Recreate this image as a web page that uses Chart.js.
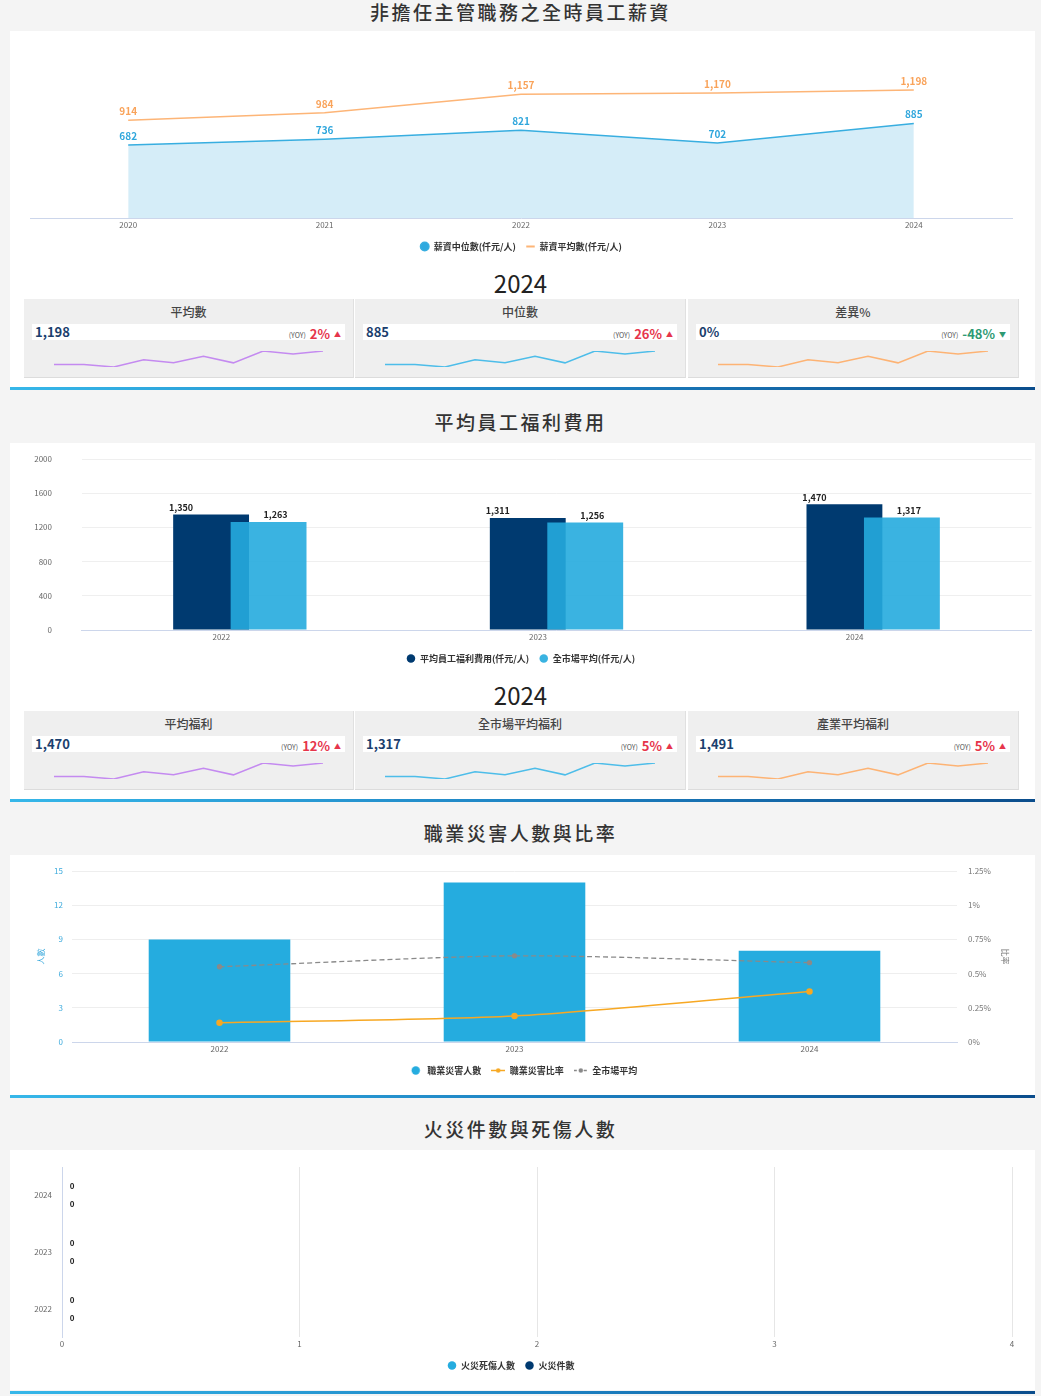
<!DOCTYPE html>
<html lang="zh-Hant">
<head>
<meta charset="utf-8">
<title>員工薪資與福利</title>
<script src="https://cdn.jsdelivr.net/npm/chart.js@4.4.1/dist/chart.umd.min.js"></script>
<style>
  html, body { margin: 0; padding: 0; }
  body { width: 1041px; height: 1396px; position: relative; overflow: hidden; background: #f4f4f4;
         font-family: 'Noto Sans CJK TC', 'Noto Sans', sans-serif; }
  .title { position: absolute; left: 0; width: 1041px; text-align: center; font-size: 19px; font-weight: 500;
           letter-spacing: 2.5px; color: #333; line-height: 24px; }
  .card { position: absolute; left: 10px; width: 1025px; background: #fff; }
  .rule { position: absolute; left: 10px; width: 1025px; height: 3px;
          background: linear-gradient(to right, #36b7e9, #1c7fc0 55%, #0b4d8c); }
  .year { position: absolute; left: 0; width: 1041px; text-align: center; font-size: 24px; color: #222; line-height: 28px; }
  .chart { position: absolute; left: 10px; }
  .kpi { position: absolute; height: 78px; background: #efefef; border-bottom: 1px solid #dcdcdc; border-right: 1px solid #e0e0e0; }
  .kpi h4 { position: absolute; margin: 0; top: 5px; left: 0; right: 0; text-align: center; font-size: 12px;
            font-weight: 500; color: #444; line-height: 16px; }
  .kpi .row { position: absolute; top: 25px; left: 8px; right: 8px; height: 16px; background: #fff; }
  .kpi .val { position: absolute; left: 3px; top: 0; font-size: 13px; font-weight: 700; color: #1b3f6e; line-height: 16px; }
  .kpi .yoy { position: absolute; right: 4px; top: 0; line-height: 16px; white-space: nowrap; }
  .kpi .yoy small { font-size: 7px; color: #555; margin-right: 4px; vertical-align: 1px; }
  .kpi .yoy b { font-size: 13px; font-weight: 700; }
  .kpi .yoy i { font-style: normal; font-size: 7px; margin-left: 4px; vertical-align: 2px; }
  .up { color: #e6354b; }
  .down { color: #2e9a73; }
  .kpi canvas { position: absolute; left: 10px; top: 44px; }
</style>
</head>
<body>

<div class="title" style="top:0px">非擔任主管職務之全時員工薪資</div>
<div class="card" style="top:31px;height:356px"></div>
<canvas id="salaryChart" class="chart" style="top:31px" width="1025" height="230"></canvas>
<div class="year" style="top:269px">2024</div>
<div class="rule" style="top:387px"></div>

<div class="title" style="top:410px">平均員工福利費用</div>
<div class="card" style="top:443px;height:356px"></div>
<canvas id="benefitChart" class="chart" style="top:443px" width="1025" height="230"></canvas>
<div class="year" style="top:681px">2024</div>
<div class="rule" style="top:799px"></div>

<div class="title" style="top:821px">職業災害人數與比率</div>
<div class="card" style="top:855px;height:240px"></div>
<canvas id="injuryChart" class="chart" style="top:855px" width="1025" height="230"></canvas>
<div class="rule" style="top:1095px"></div>

<div class="title" style="top:1117px">火災件數與死傷人數</div>
<div class="card" style="top:1150px;height:240px"></div>
<canvas id="fireChart" class="chart" style="top:1150px" width="1025" height="230"></canvas>
<div class="rule" style="top:1391px"></div>

<script>
// 薪資
const salaryYears = ['2020', '2021', '2022', '2023', '2024'];
const salaryMedian = [682, 736, 821, 702, 885];
const salaryMean = [914, 984, 1157, 1170, 1198];

// 福利
const benefitYears = ['2022', '2023', '2024'];
const benefitCompany = [1350, 1311, 1470];
const benefitMarket = [1263, 1256, 1317];

// 職業災害
const injuryYears = ['2022', '2023', '2024'];
const injuryCount = [9, 14, 8];
const injuryRate = [0.14, 0.19, 0.37];       // %
const injuryMarketRate = [0.55, 0.63, 0.58]; // %

// 火災
const fireYears = ['2024', '2023', '2022'];
const fireCasualties = [0, 0, 0];
const fireCases = [0, 0, 0];

// KPI 卡片
const salaryKpiTitles = ['平均數', '中位數', '差異%'];
const salaryKpiValues = ['1,198', '885', '0%'];
const salaryKpiYoy = [2, 26, -48];
const benefitKpiTitles = ['平均福利', '全市場平均福利', '產業平均福利'];
const benefitKpiValues = ['1,470', '1,317', '1,491'];
const benefitKpiYoy = [12, 5, 5];
const trendValues = [2.4, 2.4, 0, 7, 4, 10.4, 4, 15.4, 12.4, 15.4];

const kpiLefts = [24, 355, 688];
const kpiWidths = [330, 331, 331];
const trendColors = ['#c48af0', '#4dbde9', '#fdb374'];

Chart.defaults.font.family = "'Noto Sans CJK TC', 'Noto Sans', sans-serif";
Chart.defaults.font.size = 8;
Chart.defaults.color = '#666';
Chart.defaults.animation = false;
Chart.defaults.responsive = false;
Chart.defaults.plugins.tooltip.enabled = false;

// 數值標籤
const valueLabels = {
  id: 'valueLabels',
  afterDatasetsDraw(chart) {
    const ctx = chart.ctx;
    chart.data.datasets.forEach((ds, i) => {
      const s = ds.labelStyle;
      if (!s) return;
      chart.getDatasetMeta(i).data.forEach((el, j) => {
        ctx.save();
        ctx.font = s.font;
        ctx.fillStyle = s.color;
        ctx.textAlign = 'center';
        ctx.textBaseline = 'middle';
        ctx.fillText(ds.data[j].toLocaleString('en-US'), el.x + (s.dx || 0), el.y + (s.dy || 0));
        ctx.restore();
      });
    });
  }
};

function legendOpts(extraLabels) {
  return {
    position: 'bottom',
    labels: Object.assign({
      usePointStyle: true, boxHeight: 6, boxWidth: 9, padding: 10, color: '#333',
      font: { size: 9, weight: 'bold' }
    }, extraLabels || {})
  };
}

const xTicks = { padding: 3, color: '#666', font: { size: 8, lineHeight: 1 } };

// 圖一：薪資
new Chart(document.getElementById('salaryChart'), {
  type: 'line',
  data: {
    labels: salaryYears,
    datasets: [{
      label: '薪資中位數(仟元/人)',
      data: salaryMedian,
      borderColor: '#38aee0',
      backgroundColor: '#d5edf8',
      pointBackgroundColor: '#2fa9df',
      fill: 'origin',
      borderWidth: 1.5,
      pointRadius: 0,
      pointStyle: 'circle',
      labelStyle: { font: "600 10px 'Noto Sans CJK TC'", color: '#2fa6dc', dy: -9 }
    }, {
      label: '薪資平均數(仟元/人)',
      data: salaryMean,
      borderColor: '#fdb577',
      pointBorderColor: '#fdb577',
      pointBorderWidth: 2,
      fill: false,
      borderWidth: 1.5,
      pointRadius: 0,
      pointStyle: 'line',
      labelStyle: { font: "600 10px 'Noto Sans CJK TC'", color: '#f9a35a', dy: -9 }
    }]
  },
  options: {
    layout: { padding: { left: 20, right: 23, top: 16 } },
    scales: {
      x: { offset: true, grid: { display: false, drawTicks: false }, border: { color: '#ccd6eb' }, ticks: xTicks },
      y: { display: false, min: 0, max: 1600 }
    },
    plugins: { legend: legendOpts() }
  },
  plugins: [valueLabels]
});

// 圖二：福利
new Chart(document.getElementById('benefitChart'), {
  type: 'bar',
  data: {
    labels: benefitYears,
    datasets: [{
      label: '平均員工福利費用(仟元/人)',
      data: benefitCompany,
      backgroundColor: '#003a70',
      stack: 'company', order: 2,
      categoryPercentage: 0.363, barPercentage: 1.32,
      labelStyle: { font: "bold 9px 'Noto Sans CJK TC'", color: '#222', dx: -30, dy: -7 }
    }, {
      label: '全市場平均(仟元/人)',
      data: benefitMarket,
      backgroundColor: 'rgba(37,171,222,0.9)',
      stack: 'market', order: 1,
      categoryPercentage: 0.363, barPercentage: 1.32,
      labelStyle: { font: "bold 9px 'Noto Sans CJK TC'", color: '#222', dx: 7, dy: -7 }
    }, {
      // 只用來讓深色柱排在左邊、淺色柱疊在上層
      label: '',
      data: [],
      stack: 'company', order: 0,
      categoryPercentage: 0.363, barPercentage: 1.32
    }]
  },
  options: {
    layout: { padding: { left: 0, right: 3.5, top: 16 } },
    scales: {
      x: {
        grid: { display: false, drawTicks: false }, border: { color: '#ccd6eb' },
        ticks: Object.assign({ labelOffset: -18.5 }, xTicks)
      },
      y: {
        min: 0, max: 2000, stacked: false,
        ticks: { stepSize: 400, padding: 9.5, color: '#666', font: { size: 8 }, callback: v => String(v) },
        grid: { color: '#efefef', drawTicks: true, tickLength: 20, tickColor: 'rgba(0,0,0,0)' },
        border: { display: false },
        afterFit: scale => { scale.width = 71.5; }
      }
    },
    plugins: {
      legend: legendOpts({
        filter: item => item.text !== '',
        sort: (a, b) => a.datasetIndex - b.datasetIndex
      })
    }
  },
  plugins: [valueLabels]
});

// 圖三：職業災害
function legendIcon(kind, color) {
  const c = document.createElement('canvas');
  c.width = 14; c.height = 9;
  const g = c.getContext('2d');
  g.strokeStyle = color; g.fillStyle = color; g.lineWidth = 1.5;
  if (kind === 'dot') {
    g.beginPath(); g.arc(7, 4.5, 4.2, 0, Math.PI * 2); g.fill();
    return c;
  }
  if (kind === 'dash') g.setLineDash([3, 2]);
  g.beginPath(); g.moveTo(0, 4.5); g.lineTo(14, 4.5); g.stroke();
  g.setLineDash([]);
  g.beginPath(); g.arc(7, 4.5, 2.2, 0, Math.PI * 2); g.fill();
  return c;
}
const injuryIcons = [legendIcon('dot', '#25acdf'), legendIcon('line', '#f7a823'), legendIcon('dash', '#888')];

new Chart(document.getElementById('injuryChart'), {
  type: 'bar',
  data: {
    labels: injuryYears,
    datasets: [{
      type: 'bar',
      label: '職業災害人數',
      data: injuryCount,
      backgroundColor: '#25acdf',
      categoryPercentage: 0.8, barPercentage: 0.6,
      order: 3,
      yAxisID: 'y'
    }, {
      type: 'line',
      label: '職業災害比率',
      data: injuryRate,
      borderColor: '#f7a823',
      backgroundColor: '#f7a823',
      borderWidth: 1.5,
      pointRadius: 2.5,
      tension: 0.25,
      order: 1,
      yAxisID: 'y1'
    }, {
      type: 'line',
      label: '全市場平均',
      data: injuryMarketRate,
      borderColor: '#8a8a8a',
      backgroundColor: '#8a8a8a',
      borderWidth: 1.3,
      borderDash: [5, 3],
      pointRadius: 2,
      tension: 0.25,
      order: 2,
      yAxisID: 'y1'
    }]
  },
  options: {
    layout: { padding: { left: 22, right: 21, top: 16 } },
    scales: {
      x: { grid: { display: false, drawTicks: false }, border: { color: '#ccd6eb' }, ticks: xTicks },
      y: {
        position: 'left', min: 0, max: 15,
        ticks: { stepSize: 3, padding: 9, color: '#3aa9dc', font: { size: 8 } },
        grid: { color: '#eeeeee', drawTicks: false }, border: { display: false },
        title: { display: true, text: '人數', color: '#3aa9dc', font: { size: 8 }, padding: { top: 4, bottom: 0 } },
        afterFit: scale => { scale.width = 40; }
      },
      y1: {
        position: 'right', min: 0, max: 1.25,
        ticks: { stepSize: 0.25, padding: 11, color: '#777', font: { size: 8 }, callback: v => v + '%' },
        grid: { display: false, drawTicks: false }, border: { display: false },
        title: { display: true, text: '比率', color: '#777', font: { size: 8 }, padding: { top: 4, bottom: 0 } },
        afterFit: scale => { scale.width = 57; }
      }
    },
    plugins: {
      legend: legendOpts({
        pointStyleWidth: 14,
        sort: (a, b) => a.datasetIndex - b.datasetIndex,
        generateLabels: chart => Chart.defaults.plugins.legend.labels.generateLabels(chart).map(item => {
          item.pointStyle = injuryIcons[item.datasetIndex];
          return item;
        })
      })
    }
  }
});

// 圖四：火災
new Chart(document.getElementById('fireChart'), {
  type: 'bar',
  data: {
    labels: fireYears,
    datasets: [{
      label: '火災死傷人數',
      data: fireCasualties,
      backgroundColor: '#25acdf',
      categoryPercentage: 0.64,
      labelStyle: { font: "bold 8px 'Noto Sans CJK TC'", color: '#222', dx: 10 }
    }, {
      label: '火災件數',
      data: fireCases,
      backgroundColor: '#003a70',
      categoryPercentage: 0.64,
      labelStyle: { font: "bold 8px 'Noto Sans CJK TC'", color: '#222', dx: 10 }
    }]
  },
  options: {
    indexAxis: 'y',
    layout: { padding: { left: 0, right: 23, top: 17 } },
    scales: {
      x: {
        min: 0, max: 4,
        ticks: Object.assign({ stepSize: 1 }, xTicks),
        grid: { color: '#e6e6e6', drawTicks: false }, border: { display: false }
      },
      y: {
        grid: { display: false, drawTicks: false }, border: { color: '#ccd6eb' },
        ticks: { padding: 10, color: '#666', font: { size: 8 } },
        afterFit: scale => { scale.width = 52; }
      }
    },
    plugins: { legend: legendOpts() }
  },
  plugins: [valueLabels]
});

// KPI 卡片與走勢線
function drawTrend(canvas, color) {
  new Chart(canvas, {
    type: 'line',
    data: {
      labels: trendValues.map((_, i) => i),
      datasets: [{ data: trendValues, borderColor: color, borderWidth: 1.5, pointRadius: 0, tension: 0 }]
    },
    options: {
      events: [],
      layout: { padding: { left: 20, right: 21, top: 8, bottom: 8 } },
      plugins: { legend: { display: false } },
      scales: { x: { display: false }, y: { display: false, min: 0, max: 15.4 } }
    }
  });
}

function buildKpis(top, titles, values, yoys) {
  kpiLefts.forEach((left, i) => {
    const box = document.createElement('div');
    box.className = 'kpi';
    box.style.left = left + 'px';
    box.style.top = top + 'px';
    box.style.width = (kpiWidths[i] - 1) + 'px';
    const up = yoys[i] >= 0;
    const cls = up ? 'up' : 'down';
    box.innerHTML = `
      <h4>${titles[i]}</h4>
      <div class="row">
        <span class="val">${values[i]}</span>
        <span class="yoy"><small>(YOY)</small><b class="${cls}">${yoys[i]}%</b><i class="${cls}">${up ? '▲' : '▼'}</i></span>
      </div>`;
    const canvas = document.createElement('canvas');
    canvas.width = kpiWidths[i] - 20;
    canvas.height = 32;
    box.appendChild(canvas);
    document.body.appendChild(box);
    drawTrend(canvas, trendColors[i]);
  });
}

buildKpis(299, salaryKpiTitles, salaryKpiValues, salaryKpiYoy);
buildKpis(711, benefitKpiTitles, benefitKpiValues, benefitKpiYoy);
</script>
</body>
</html>
